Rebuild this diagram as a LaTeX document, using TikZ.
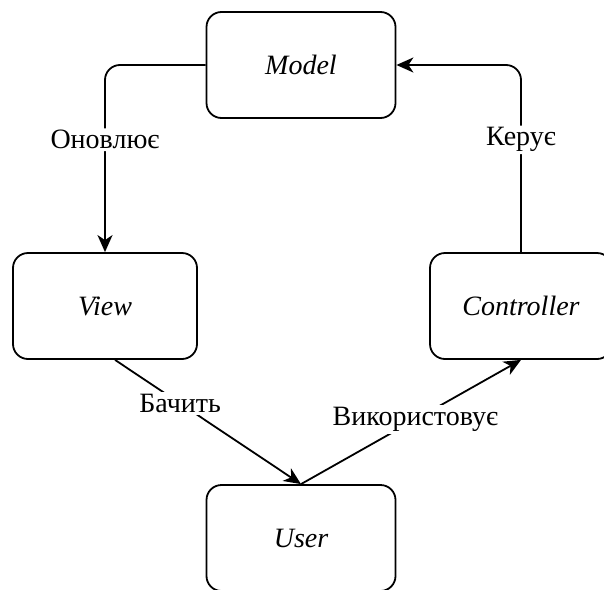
\documentclass[tikz,border=0pt]{standalone}
\usepackage{fontspec}
\setmainfont{LiberationSerif-Regular.ttf}[ItalicFont=LiberationSerif-Italic.ttf]
\usetikzlibrary{arrows.meta}
\begin{document}
\begin{tikzpicture}[x=1pt,y=-1pt,
  box/.style={draw, line width=1.8pt, rounded corners=15pt, minimum width=189pt,
    minimum height=106pt, inner sep=0pt, font=\fontsize{28}{32}\selectfont\itshape},
  link/.style={draw, line width=1.8pt, -{Stealth[length=17pt,width=15pt,inset=5pt]}},
  tag/.style={fill=white, inner sep=2pt, font=\fontsize{28}{32}\selectfont}]
\useasboundingbox (0,0) rectangle (604,589);
\clip (0,0) rectangle (604,589);
\fill[white] (0,0) rectangle (604,589);
% the four components
\node[box] (model) at (301,65) {Model};
\node[box, minimum width=184pt] (view) at (105,306) {View};
\node[box, minimum width=182pt] (ctrl) at (521,306) {Controller};
\node[box] (user) at (301,538) {User};
% connectors
\draw[link, rounded corners=15pt] (model.west) -| node[tag, pos=0.7] {Оновлює} (view.north);
\draw[link, rounded corners=15pt] (ctrl.north) |- node[tag, pos=0.3] {Керує} (model.east);
\draw[link] ([xshift=10pt]view.south) -- node[tag, pos=0.35] {Бачить} (user.north);
\draw[link] (user.north) -- node[tag, pos=0.52] {Використовує} (ctrl.south);
\end{tikzpicture}
\end{document}
